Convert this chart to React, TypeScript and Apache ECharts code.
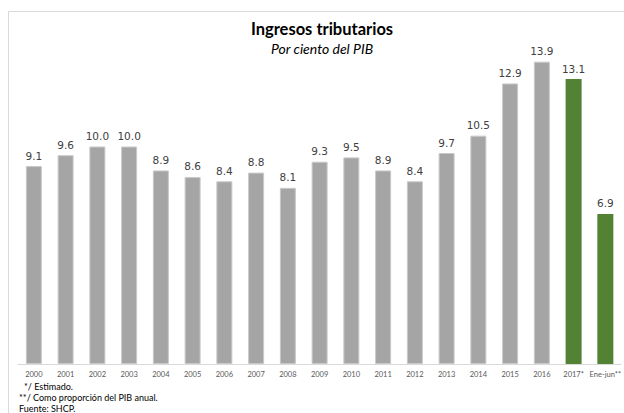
import React, { useEffect, useRef } from "react";
import * as echarts from "echarts";

const categories = ["2000","2001","2002","2003","2004","2005","2006","2007","2008","2009","2010","2011","2012","2013","2014","2015","2016","2017*","Ene-jun**"];
const values = [9.1,9.6,10.0,10.0,8.9,8.6,8.4,8.8,8.1,9.3,9.5,8.9,8.4,9.7,10.5,12.9,13.9,13.1,6.9];
const highlighted = ["2017*","Ene-jun**"];
const titleText = "Ingresos tributarios";
const subtitleText = "Por ciento del PIB";
const footnotes = ["*/ Estimado.", "**/ Como proporción del PIB anual.", "Fuente: SHCP."];

export default function App() {
  const ref = useRef<HTMLDivElement>(null);
  useEffect(() => {
    const chart = echarts.init(ref.current!, null, { renderer: "svg" });
    chart.setOption({
      animation: false,
      backgroundColor: "#ffffff",
      grid: { left: 18, top: 16, width: 608, height: 348, containLabel: false },
      xAxis: {
        type: "category",
        data: categories,
        axisLine: { lineStyle: { color: "#d9d9d9", width: 1 } },
        axisTick: { show: false },
        axisLabel: { fontSize: 7.5, color: "#595959", fontFamily: "Lato", margin: 6, interval: 0 },
      },
      yAxis: { type: "value", min: 0, max: 16, show: false, splitLine: { show: false } },
      series: [
        {
          type: "bar",
          barWidth: 16,
          data: values.map((v, i) => ({
            value: v,
            itemStyle: highlighted.includes(categories[i])
              ? { color: "#548235", borderColor: "#548235", borderWidth: 0 }
              : { color: "#a5a5a5", borderColor: "#c9c9c9", borderWidth: 1 },
          })),
          label: {
            show: true,
            position: "top",
            distance: 5,
            formatter: (p: any) => p.value.toFixed(1),
            fontSize: 10.5,
            color: "#404040",
            fontFamily: "DejaVu Sans",
          },
        },
      ],
      graphic: [
        { type: "line", shape: { x1: 8.5, y1: 11.5, x2: 624, y2: 11.5 }, style: { stroke: "#d9d9d9", lineWidth: 1 } },
        { type: "line", shape: { x1: 8.5, y1: 11.5, x2: 8.5, y2: 413 }, style: { stroke: "#d9d9d9", lineWidth: 1 } },
        { type: "text", x: 322, y: 29, style: { text: titleText, font: "bold 16.5px Lato", fill: "#000000", textAlign: "center", textVerticalAlign: "middle" } },
        { type: "text", x: 322, y: 48, style: { text: subtitleText, font: "italic 14px Lato", fill: "#000000", textAlign: "center", textVerticalAlign: "middle" } },
        { type: "text", x: 24, y: 386, style: { text: footnotes[0], font: "9px Lato", fill: "#000000", textVerticalAlign: "middle" } },
        { type: "text", x: 19, y: 397, style: { text: footnotes[1], font: "9px Lato", fill: "#000000", textVerticalAlign: "middle" } },
        { type: "text", x: 19, y: 408, style: { text: footnotes[2], font: "9px Lato", fill: "#000000", textVerticalAlign: "middle" } },
      ],
    });
    return () => chart.dispose();
  }, []);
  return <div ref={ref} style={{ position: "fixed", left: 0, top: 0, width: 624, height: 413 }} />;
}
